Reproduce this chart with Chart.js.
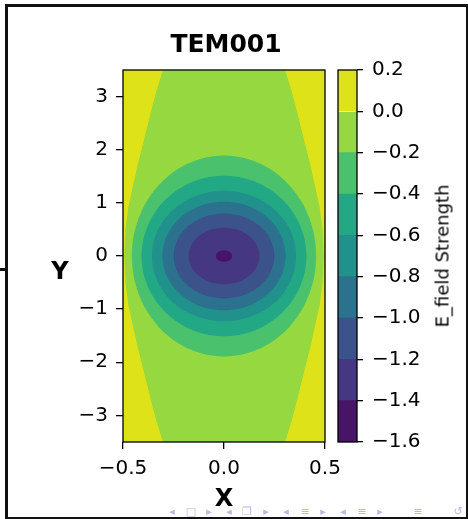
<!DOCTYPE html>
<html>
<head>
<meta charset="utf-8">
<script src="https://cdn.jsdelivr.net/npm/chart.js@4.4.0/dist/chart.umd.min.js"></script>
<style>
  html, body { margin: 0; padding: 0; background: #fff; }
  #page { position: relative; width: 468px; height: 519px; overflow: hidden; font-family: 'DejaVu Sans', sans-serif; }
  .cadre { position: absolute; background: #111; }
  #graphique { position: absolute; left: 0; top: 0; }
  #barre { position: absolute; left: 300px; top: 0; }
  .etiquette { position: absolute; white-space: nowrap; color: #000; }
  #titre { left: 226px; top: 43px; font-size: 25px; font-weight: bold; transform: translate(-50%, -50%); }
  #labelY { left: 60px; top: 271px; font-size: 24px; font-weight: bold; transform: translate(-50%, -50%); }
  #labelBarre { left: 442px; top: 256px; font-size: 18px; transform: translate(-50%, -50%) rotate(-90deg); }
  .nav { position: absolute; color: #b8b8e4; font-size: 11px; transform: translate(-50%, -50%); }
</style>
</head>
<body>
<div id="page">
  <div class="cadre" style="left:5px; top:4px; width:463px; height:3px;"></div>
  <div class="cadre" style="left:5px; top:4px; width:3px; height:515px;"></div>
  <div class="cadre" style="left:466px; top:4px; width:2px; height:515px;"></div>
  <div class="cadre" style="left:5px; top:517px; width:463px; height:2px;"></div>
  <div class="cadre" style="left:0px; top:268px; width:6px; height:3px;"></div>

  <canvas id="graphique" width="468" height="519"></canvas>
  <canvas id="barre" width="168" height="519"></canvas>

  <div class="etiquette" id="titre">TEM001</div>
  <div class="etiquette" id="labelY">Y</div>
  <div class="etiquette" id="labelBarre">E_field Strength</div>
  <div id="navigation"></div>
</div>

<script>
// bornes des niveaux (barre de couleur) et couleur de chaque bande
const niveaux = [-1.6, -1.4, -1.2, -1.0, -0.8, -0.6, -0.4, -0.2, 0.0, 0.2];
const couleurs = ["#471466", "#453781", "#3b528b", "#2c728e", "#21918c", "#22a884", "#4ac16d", "#95d840", "#dde318"];

const limitesX = [-0.5, 0.5];
const limitesY = [-3.5, 3.5];
const ticksX = [-0.5, 0.0, 0.5];
const ticksY = [-3, -2, -1, 0, 1, 2, 3];

// frontière du niveau 0.0 : bord gauche (haut -> bas) puis bord droit (bas -> haut)
const frontiereGauche = [[-0.302, 3.5], [-0.335, 3.1], [-0.366, 2.65], [-0.395, 2.2], [-0.424, 1.77], [-0.452, 1.3], [-0.474, 0.9], [-0.488, 0.5], [-0.493, 0],
  [-0.488, -0.5], [-0.474, -0.9], [-0.452, -1.3], [-0.424, -1.77], [-0.395, -2.2], [-0.366, -2.65], [-0.335, -3.1], [-0.302, -3.5]];
const frontiereDroite = [[0.302, -3.5], [0.335, -3.1], [0.366, -2.65], [0.395, -2.2], [0.424, -1.77], [0.452, -1.3], [0.474, -0.9], [0.488, -0.5], [0.493, 0],
  [0.488, 0.5], [0.474, 0.9], [0.452, 1.3], [0.424, 1.77], [0.395, 2.2], [0.366, 2.65], [0.335, 3.1], [0.302, 3.5]];

// contours fermés
const contourM02 = [[0.456, 0], [0.395, 0.945], [0.228, 1.637], [0, 1.89], [-0.228, 1.637], [-0.395, 0.945], [-0.456, 0], [-0.395, -0.945], [-0.228, -1.637], [0, -1.89], [0.228, -1.637], [0.395, -0.945]];
const contourM04 = [[0.408, 0], [0.353, 0.755], [0.204, 1.308], [0, 1.51], [-0.204, 1.308], [-0.353, 0.755], [-0.408, 0], [-0.353, -0.755], [-0.204, -1.308], [0, -1.51], [0.204, -1.308], [0.353, -0.755]];
const contourM06 = [[0.357, 0], [0.309, 0.615], [0.179, 1.065], [0, 1.23], [-0.179, 1.065], [-0.309, 0.615], [-0.357, 0], [-0.309, -0.615], [-0.179, -1.065], [0, -1.23], [0.179, -1.065], [0.309, -0.615]];
const contourM08 = [[0.305, 0], [0.264, 0.51], [0.153, 0.883], [0, 1.02], [-0.153, 0.883], [-0.264, 0.51], [-0.305, 0], [-0.264, -0.51], [-0.153, -0.883], [0, -1.02], [0.153, -0.883], [0.264, -0.51]];
const contourM10 = [[0.249, 0], [0.216, 0.40], [0.125, 0.693], [0, 0.80], [-0.125, 0.693], [-0.216, 0.40], [-0.249, 0], [-0.216, -0.40], [-0.125, -0.693], [0, -0.80], [0.125, -0.693], [0.216, -0.40]];
const contourM12 = [[0.176, 0], [0.152, 0.265], [0.088, 0.459], [0, 0.53], [-0.088, 0.459], [-0.152, 0.265], [-0.176, 0], [-0.152, -0.265], [-0.088, -0.459], [0, -0.53], [0.088, -0.459], [0.152, -0.265]];
const contourM14 = [[0.040, 0], [0.035, 0.055], [0.020, 0.095], [0, 0.11], [-0.020, 0.095], [-0.035, 0.055], [-0.040, 0], [-0.035, -0.055], [-0.020, -0.095], [0, -0.11], [0.020, -0.095], [0.035, -0.055]];

Chart.defaults.font.family = "'DejaVu Sans', sans-serif";
Chart.defaults.color = "#000";

function formatTick(v, decimales){
    const t = Math.abs(v).toFixed(decimales);
    return (v < -1e-9 ? "\u2212" : "") + t;
}

function forme(points, couleur, tension, boucle){
    return {
        data: points.map(p => ({x: p[0], y: p[1]})),
        showLine: true,
        fill: "shape",
        backgroundColor: couleur,
        borderWidth: 0,
        pointRadius: 0,
        tension: tension,
        boucle: boucle
    };
}

// les contours sont des courbes fermées : on marque la ligne comme une boucle
// (comme le fait le radar) pour que la spline se referme sans cassure
const boucleFermee = {
    id: "boucleFermee",
    afterDatasetsUpdate(chart){
        chart.data.datasets.forEach((ds, i) => {
            if(!ds.boucle) return;
            const ligne = chart.getDatasetMeta(i).dataset;
            ligne._loop = true;
            ligne._fullLoop = true;
            ligne._pointsUpdated = false;
            delete ligne._segments;
            delete ligne._path;
        });
    }
};

const cadreAxes = {
    id: "cadreAxes",
    afterDatasetsDraw(chart){
        const {ctx, chartArea: a} = chart;
        ctx.save();
        ctx.strokeStyle = "#000";
        ctx.lineWidth = 1.3;
        ctx.strokeRect(a.left, a.top, a.right - a.left, a.bottom - a.top);
        ctx.restore();
    }
};

const fond = [[limitesX[0], limitesY[0]], [limitesX[1], limitesY[0]], [limitesX[1], limitesY[1]], [limitesX[0], limitesY[1]]];

const formes = [
    forme(fond, couleurs[8], 0, false),
    forme(frontiereGauche.concat(frontiereDroite), couleurs[7], 0, false),
    forme(contourM02, couleurs[6], 0.35, true),
    forme(contourM04, couleurs[5], 0.35, true),
    forme(contourM06, couleurs[4], 0.35, true),
    forme(contourM08, couleurs[3], 0.35, true),
    forme(contourM10, couleurs[2], 0.35, true),
    forme(contourM12, couleurs[1], 0.35, true),
    forme(contourM14, couleurs[0], 0.35, true)
];
// le premier jeu de données est dessiné en dernier : on inverse avec "order"
for(let i = 0; i < formes.length; i++){
    formes[i].order = formes.length - i;
}

const grilleAxe = {drawOnChartArea: false, drawTicks: true, tickLength: 7, color: "#000", lineWidth: 1.3};

new Chart(document.querySelector("#graphique"), {
    type: "scatter",
    data: {datasets: formes},
    options: {
        responsive: false,
        animation: false,
        events: [],
        layout: {padding: {left: 0, right: 143, top: 70, bottom: 0}},
        plugins: {
            legend: {display: false},
            tooltip: {enabled: false}
        },
        scales: {
            x: {
                type: "linear",
                min: limitesX[0],
                max: limitesX[1],
                afterBuildTicks: s => { s.ticks = ticksX.map(v => ({value: v})); },
                afterFit: s => { s.height = 77; },
                ticks: {font: {size: 20}, padding: 8, maxRotation: 0, callback: v => formatTick(v, 1)},
                grid: grilleAxe,
                border: {display: false},
                title: {display: true, text: "X", font: {size: 24, weight: "bold"}, padding: {top: 0, bottom: 5}}
            },
            y: {
                type: "linear",
                min: limitesY[0],
                max: limitesY[1],
                afterBuildTicks: s => { s.ticks = ticksY.map(v => ({value: v})); },
                afterFit: s => { s.width = 123; },
                ticks: {font: {size: 20}, padding: 8, callback: v => formatTick(v, 0)},
                grid: grilleAxe,
                border: {display: false}
            }
        }
    },
    plugins: [boucleFermee, cadreAxes]
});

// barre de couleur : une barre flottante par bande
const bandes = [];
for(let i = 0; i < couleurs.length; i++){
    bandes.push({
        data: [[niveaux[i], niveaux[i + 1]]],
        backgroundColor: couleurs[i],
        borderWidth: 0,
        barPercentage: 1,
        categoryPercentage: 1,
        grouped: false
    });
}

new Chart(document.querySelector("#barre"), {
    type: "bar",
    data: {labels: [""], datasets: bandes},
    options: {
        responsive: false,
        animation: false,
        events: [],
        layout: {padding: {left: 38, right: 0, top: 70, bottom: 77}},
        plugins: {legend: {display: false}, tooltip: {enabled: false}},
        scales: {
            x: {display: false},
            y: {
                position: "right",
                min: niveaux[0],
                max: niveaux[niveaux.length - 1],
                afterBuildTicks: s => { s.ticks = niveaux.map(v => ({value: v})); },
                afterFit: s => { s.width = 111; },
                ticks: {font: {size: 20}, padding: 9, callback: v => formatTick(v, 1)},
                grid: {drawOnChartArea: false, drawTicks: true, tickLength: 6, color: "#000", lineWidth: 1.3},
                border: {display: false}
            }
        }
    },
    plugins: [cadreAxes]
});

// symboles de navigation beamer
const symboles = ["◂", "□", "▸", "◂", "❐", "▸", "◂", "≡", "▸", "◂", "≡", "▸", "≡", "↺"];
const positionsSymboles = [172, 191, 209, 229, 247, 266, 286, 305, 323, 343, 362, 380, 418, 458];
const nav = document.querySelector("#navigation");
for(let i = 0; i < symboles.length; i++){
    const s = document.createElement("span");
    s.className = "nav";
    s.textContent = symboles[i];
    s.style.left = positionsSymboles[i] + "px";
    s.style.top = "511px";
    nav.appendChild(s);
}
</script>
</body>
</html>
